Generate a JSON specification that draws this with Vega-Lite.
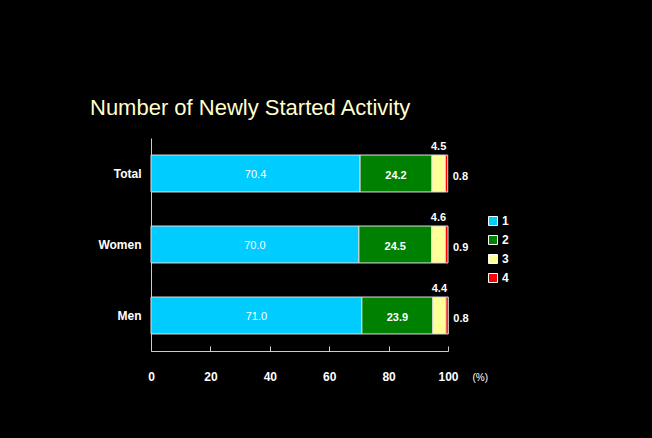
{
  "$schema": "https://vega.github.io/schema/vega-lite/v6.json",
  "width": 297,
  "height": 213,
  "autosize": "none",
  "padding": {"left": 151, "top": 138, "right": 204, "bottom": 87},
  "background": "#000000",
  "title": {
    "text": "Number of Newly Started Activity",
    "anchor": "start",
    "frame": "group",
    "dx": -61,
    "offset": 18,
    "color": "#FFFFCC",
    "font": "Liberation Sans",
    "fontSize": 22,
    "fontWeight": "normal"
  },
  "config": {
    "view": {"stroke": null},
    "legend": {
      "orient": "none",
      "legendX": 336,
      "legendY": 77,
      "title": null,
      "labelColor": "#ffffff",
      "labelFont": "Liberation Sans",
      "labelFontWeight": "bold",
      "labelFontSize": 12,
      "labelOffset": 3,
      "symbolType": "square",
      "symbolSize": 81,
      "symbolStrokeColor": "#ffffff",
      "symbolStrokeWidth": 1,
      "rowPadding": 5
    }
  },
  "data": {
    "values": [
      {"group": "Total", "category": "1", "value": 70.4},
      {"group": "Total", "category": "2", "value": 24.2},
      {"group": "Total", "category": "3", "value": 4.5},
      {"group": "Total", "category": "4", "value": 0.8},
      {"group": "Women", "category": "1", "value": 70.0},
      {"group": "Women", "category": "2", "value": 24.5},
      {"group": "Women", "category": "3", "value": 4.6},
      {"group": "Women", "category": "4", "value": 0.9},
      {"group": "Men", "category": "1", "value": 71.0},
      {"group": "Men", "category": "2", "value": 23.9},
      {"group": "Men", "category": "3", "value": 4.4},
      {"group": "Men", "category": "4", "value": 0.8}
    ]
  },
  "transform": [
    {"stack": "value", "groupby": ["group"], "sort": [{"field": "category"}], "as": ["x0", "x1"]},
    {"calculate": "(datum.x0 + datum.x1) / 2", "as": "mid"}
  ],
  "encoding": {
    "y": {
      "field": "group",
      "type": "nominal",
      "sort": ["Total", "Women", "Men"],
      "scale": {"paddingInner": 0.48, "paddingOuter": 0.24},
      "axis": {
        "title": null,
        "ticks": false,
        "domain": true,
        "domainColor": "#cccccc",
        "labelColor": "#ffffff",
        "labelFont": "Liberation Sans",
        "labelFontWeight": "bold",
        "labelFontSize": 12,
        "labelPadding": 10
      }
    }
  },
  "layer": [
    {
      "mark": {"type": "bar", "stroke": "#e0e0e0", "strokeWidth": 1},
      "encoding": {
        "x": {
          "field": "x0",
          "type": "quantitative",
          "title": "(%)",
          "scale": {"domain": [0, 100], "nice": false},
          "axis": {
            "values": [0, 10, 20, 30, 40, 50, 60, 70, 80, 90, 100],
            "labelExpr": "datum.value % 20 === 0 ? datum.label : ''",
            "labelFlush": false,
            "grid": false,
            "tickSize": -5,
            "tickColor": "#cccccc",
            "domainColor": "#cccccc",
            "labelColor": "#ffffff",
            "labelFont": "Liberation Sans",
            "labelFontWeight": "bold",
            "labelFontSize": 12,
            "labelPadding": 25,
            "titleX": 321,
            "titleY": 26,
            "titleAngle": 0,
            "titleAlign": "left",
            "titleBaseline": "middle",
            "titleColor": "#ffffff",
            "titleFont": "Liberation Sans",
            "titleFontWeight": "normal",
            "titleFontSize": 10
          }
        },
        "x2": {"field": "x1"},
        "color": {
          "field": "category",
          "type": "nominal",
          "scale": {"domain": ["1", "2", "3", "4"], "range": ["#00CCFF", "#008000", "#FFFF99", "#FF0000"]}
        }
      }
    },
    {
      "transform": [{"filter": "datum.category === '1'"}],
      "mark": {"type": "text", "color": "#ffffff", "font": "Liberation Sans", "fontSize": 11, "fontWeight": "normal", "dy": 1},
      "encoding": {
        "x": {"field": "mid", "type": "quantitative", "title": "(%)"},
        "text": {"field": "value", "type": "quantitative", "format": ".1f"}
      }
    },
    {
      "transform": [{"filter": "datum.category === '2'"}],
      "mark": {"type": "text", "color": "#ffffff", "font": "Liberation Sans", "fontSize": 11, "fontWeight": "bold", "dy": 2},
      "encoding": {
        "x": {"field": "mid", "type": "quantitative", "title": "(%)"},
        "text": {"field": "value", "type": "quantitative", "format": ".1f"}
      }
    },
    {
      "transform": [{"filter": "datum.category === '3'"}],
      "mark": {"type": "text", "color": "#ffffff", "font": "Liberation Sans", "fontSize": 11, "fontWeight": "bold", "dy": -27},
      "encoding": {
        "x": {"field": "mid", "type": "quantitative", "title": "(%)"},
        "text": {"field": "value", "type": "quantitative", "format": ".1f"}
      }
    },
    {
      "transform": [{"filter": "datum.category === '4'"}],
      "mark": {"type": "text", "color": "#ffffff", "font": "Liberation Sans", "fontSize": 11, "fontWeight": "bold", "align": "left", "dx": 5, "dy": 3},
      "encoding": {
        "x": {"field": "x1", "type": "quantitative", "title": "(%)"},
        "text": {"field": "value", "type": "quantitative", "format": ".1f"}
      }
    }
  ]
}
